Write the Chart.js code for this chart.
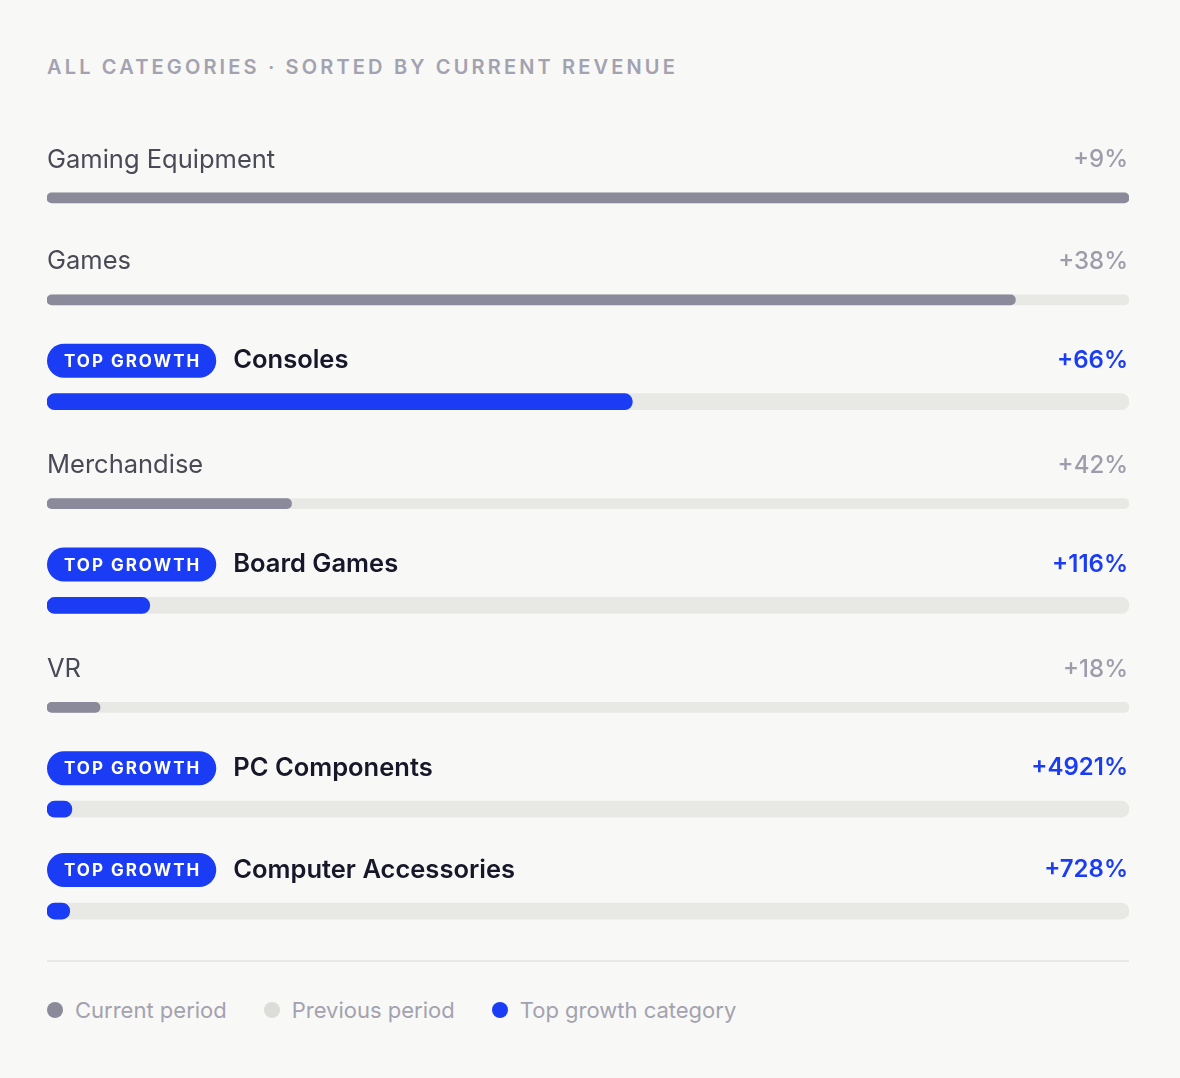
<!DOCTYPE html>
<html lang="en">
<head>
<meta charset="UTF-8">
<title>All categories</title>
<script src="https://cdn.jsdelivr.net/npm/chart.js@4.4.1/dist/chart.umd.min.js"></script>
<style>
    html, body { margin: 0; padding: 0; }
    body {
        width: 1180px;
        height: 1078px;
        background: #f8f8f6;
        font-family: Inter, "Noto Sans", sans-serif;
        position: relative;
        overflow: hidden;
    }
    .title {
        position: absolute;
        left: 47px;
        top: 54px;
        margin: 0;
        font-size: 20px;
        font-weight: 600;
        letter-spacing: 3.15px;
        color: #a3a2b0;
        line-height: 26px;
    }
    .chart-box {
        position: absolute;
        left: 0;
        top: 100px;
        width: 1180px;
        height: 870px;
    }
    .divider {
        position: absolute;
        left: 47px;
        top: 960px;
        width: 1082px;
        height: 2px;
        background: #e8e8e5;
    }
    .legend {
        position: absolute;
        left: 47px;
        top: 996px;
        display: flex;
        align-items: center;
        font-size: 22px;
        color: #a3a2b0;
        line-height: 28px;
    }
    .legend span.item { display: flex; align-items: center; margin-right: 37px; }
    .legend i { display: inline-block; width: 16px; height: 16px; border-radius: 50%; margin-right: 12px; }
</style>
</head>
<body>

<h2 class="title">ALL CATEGORIES · SORTED BY CURRENT REVENUE</h2>

<div class="chart-box">
    <canvas id="chart"></canvas>
</div>

<div class="divider"></div>

<div class="legend">
    <span class="item"><i style="background:#8a8a9a"></i>Current period</span>
    <span class="item"><i style="background:#dcdcd8"></i>Previous period</span>
    <span class="item"><i style="background:#1a3cf5"></i>Top growth category</span>
</div>

<script>
// data (current revenue as index, largest category = 100)
const categories = ['Gaming Equipment', 'Games', 'Consoles', 'Merchandise', 'Board Games', 'VR', 'PC Components', 'Computer Accessories'];
const currentRevenue = [100, 89.5, 54.1, 22.6, 9.5, 4.9, 2.3, 2.1];
const growthPct = [9, 38, 66, 42, 116, 18, 4921, 728];
const topGrowth = [false, false, true, false, true, false, true, true];

const GRAY = '#8a8a9a';
const TRACK = '#e8e8e4';
const BLUE = '#1a3cf5';

const maxRevenue = Math.max(...currentRevenue);

// split rows into normal / top growth so each can have its own bar thickness
const normalValues = currentRevenue.map((v, i) => topGrowth[i] ? null : v);
const topValues = currentRevenue.map((v, i) => topGrowth[i] ? v : null);
const normalTrack = categories.map((c, i) => topGrowth[i] ? null : maxRevenue);
const topTrack = categories.map((c, i) => topGrowth[i] ? maxRevenue : null);

const barStyle = { grouped: false, borderSkipped: false, borderWidth: 0 };

// row labels, badges and growth numbers above every bar
const rowLabels = {
    id: 'rowLabels',
    afterDatasetsDraw(chart) {
        const ctx = chart.ctx;
        const y = chart.scales.y;
        const area = chart.chartArea;
        ctx.save();
        categories.forEach((name, i) => {
            const top = topGrowth[i];
            const thick = top ? 16 : 10;
            const cy = y.getPixelForValue(i) - thick / 2 - 33;
            let x = area.left;
            ctx.textBaseline = 'middle';

            if (top) {
                ctx.font = '700 17px Inter';
                ctx.letterSpacing = '2px';
                const tw = ctx.measureText('TOP GROWTH').width - 2;
                const bw = tw + 34;
                ctx.fillStyle = BLUE;
                ctx.beginPath();
                ctx.roundRect(x, cy - 17, bw, 34, 17);
                ctx.fill();
                ctx.fillStyle = '#ffffff';
                ctx.textAlign = 'left';
                ctx.fillText('TOP GROWTH', x + 17, cy + 1);
                ctx.letterSpacing = '0px';
                x += bw + 17;
                ctx.font = '600 25.5px Inter';
                ctx.fillStyle = '#17172a';
            } else {
                ctx.font = '400 25.5px Inter';
                ctx.fillStyle = '#4a4a56';
            }
            ctx.textAlign = 'left';
            ctx.fillText(name, x, cy);

            ctx.textAlign = 'right';
            ctx.font = top ? '600 24px Inter' : '500 24px Inter';
            ctx.fillStyle = top ? BLUE : '#9d9cab';
            ctx.fillText('+' + growthPct[i] + '%', area.right - 1, cy);
        });
        ctx.restore();
    }
};

const ctx = document.getElementById('chart').getContext('2d');

const myChart = new Chart(ctx, {
    type: 'bar',
    data: {
        labels: categories,
        datasets: [
            { label: 'Current period', data: normalValues, backgroundColor: GRAY, barThickness: 10, borderRadius: 5, order: 1, ...barStyle },
            { label: 'Top growth category', data: topValues, backgroundColor: BLUE, barThickness: 16, borderRadius: 8, order: 1, ...barStyle },
            { label: 'Track', data: normalTrack, backgroundColor: TRACK, barThickness: 10, borderRadius: 5, order: 2, ...barStyle },
            { label: 'Track top', data: topTrack, backgroundColor: TRACK, barThickness: 16, borderRadius: 8, order: 2, ...barStyle }
        ]
    },
    options: {
        indexAxis: 'y',
        responsive: true,
        maintainAspectRatio: false,
        animation: false,
        layout: {
            padding: { left: 47, right: 51, top: 47, bottom: 8 }
        },
        scales: {
            x: { display: false, min: 0, max: maxRevenue },
            y: { display: false, offset: true }
        },
        plugins: {
            legend: { display: false },
            tooltip: { enabled: false }
        }
    },
    plugins: [rowLabels]
});
</script>

</body>
</html>
